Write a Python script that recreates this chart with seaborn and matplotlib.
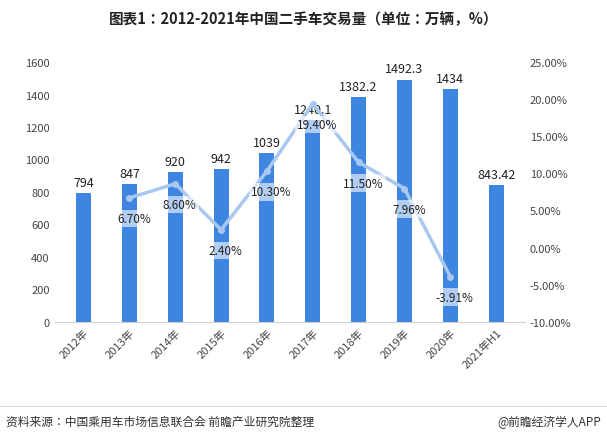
import matplotlib
matplotlib.use("Agg")
import matplotlib.pyplot as plt
from matplotlib import font_manager
import seaborn as sns
import pandas as pd

cands = ["Noto Sans CJK SC", "Noto Sans CJK JP", "Noto Sans CJK TC", "Noto Sans CJK KR"]
names = {f.name for f in font_manager.fontManager.ttflist}
fams = [c for c in cands if c in names] + ["DejaVu Sans"]
plt.rcParams["font.family"] = fams

years = ["2012年","2013年","2014年","2015年","2016年","2017年","2018年","2019年","2020年","2021年H1"]
volume = [794, 847, 920, 942, 1039, 1240.1, 1382.2, 1492.3, 1434, 843.42]
growth_years = years[1:9]
growth = [6.70, 8.60, 2.40, 10.30, 19.40, 11.50, 7.96, -3.91]

df = pd.DataFrame({"year": years, "volume": volume})

fig = plt.figure(figsize=(6.07, 4.35), dpi=100)
ax = fig.add_axes([0.09, 0.258, 0.775, 0.597])
sns.barplot(data=df, x="year", y="volume", color="#3d85e0", width=0.33, ax=ax, saturation=1)
ax.set_ylim(0, 1600)
ax.set_yticks(range(0, 1601, 200))
ax.set_xlabel(""); ax.set_ylabel("")
ax.tick_params(axis="both", length=0, labelsize=8, colors="#444444")
plt.setp(ax.get_xticklabels(), rotation=45, ha="right", rotation_mode="anchor")
for s in ax.spines.values():
    s.set_visible(False)
ax.spines["bottom"].set_visible(True); ax.spines["bottom"].set_color("#d0d0d0")
for i, v in enumerate(volume):
    ax.text(i, v + 25, f"{v:g}", ha="center", va="bottom", fontsize=9, color="#222222")

ax2 = ax.twinx()
gx = list(range(1, 9))
ax2.plot(gx, growth, color="#a9c8f0", lw=2.5, marker="o", ms=4, mfc="#a9c8f0", mec="#a9c8f0")
ax2.set_ylim(-10, 25)
ax2.set_yticks(range(-10, 26, 5))
ax2.set_yticklabels([f"{t:.2f}%" for t in range(-10, 26, 5)])
ax2.tick_params(axis="y", length=0, labelsize=8, colors="#444444")
for s in ax2.spines.values():
    s.set_visible(False)
for x, g in zip(gx, growth):
    ax2.text(x + 0.1, g - 2.8, f"{g:.2f}%", ha="center", va="center", fontsize=8.5, color="#222222",
             bbox=dict(boxstyle="square,pad=0.2", fc="white", ec="none", alpha=0.6))

fig.text(0.5, 0.955, "图表1：2012-2021年中国二手车交易量（单位：万辆，%）", ha="center", va="center",
         fontsize=10.5, fontweight="bold", color="#222222")
fig.add_artist(plt.Line2D([0, 1], [0.065, 0.065], color="#dddddd", lw=0.8))
fig.text(0.01, 0.045, "资料来源：中国乘用车市场信息联合会 前瞻产业研究院整理", ha="left", va="top", fontsize=8.5, color="#333333")
fig.text(0.99, 0.045, "@前瞻经济学人APP", ha="right", va="top", fontsize=8.5, color="#333333")
fig.savefig("out.png", dpi=100)
